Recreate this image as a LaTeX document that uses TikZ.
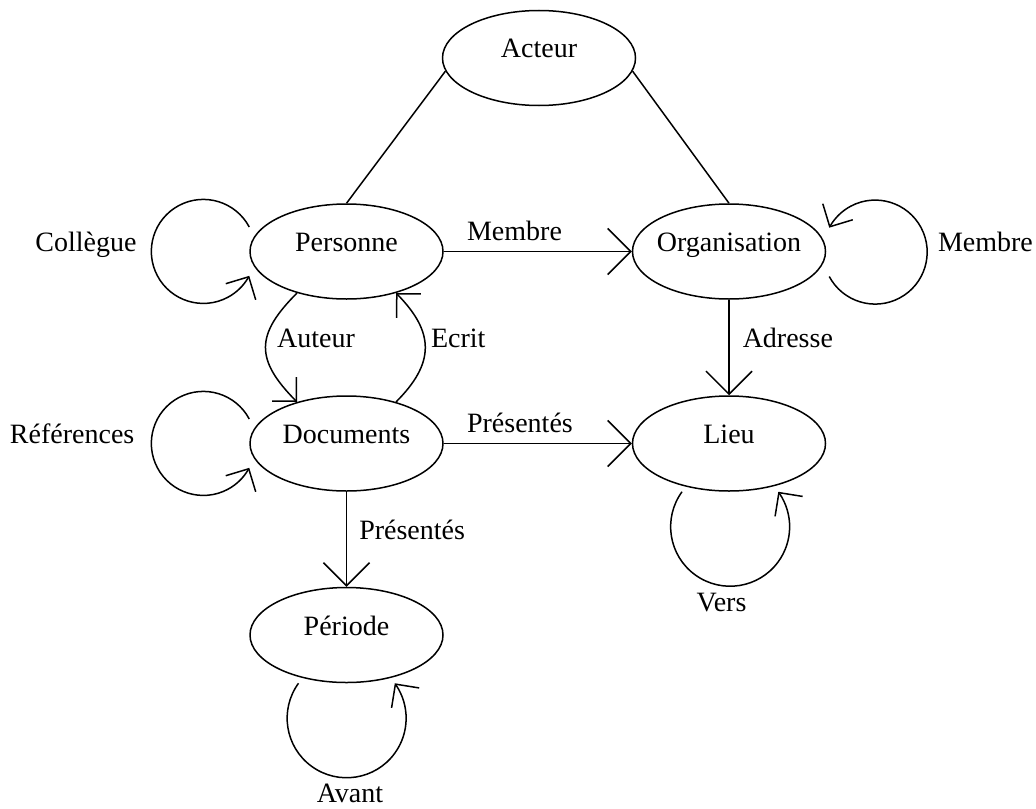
\documentclass[tikz,border=0pt]{standalone}
\usepackage{fontspec}
\setmainfont{Liberation Serif}
\usetikzlibrary{shapes.geometric,arrows.meta,bending}

\begin{document}
\begin{tikzpicture}[x=0.5pt, y=0.5pt, line width=0.75pt,
    font=\fontsize{14}{16}\selectfont,
    entite/.style={draw, ellipse, minimum width=96.5pt, minimum height=47.5pt,
      inner xsep=-20pt, inner ysep=0pt, text height=5pt, text depth=5pt},
    etiquette/.style={inner sep=0pt},
    fleche/.style={-{Straight Barb[length=11.5pt, width=23pt]}},
    boucle/.style={-{Straight Barb[length=8.5pt, width=17pt]}}]
    \useasboundingbox (0,0) rectangle (1036,-808);
    \node[entite] (acteur)       at (539,-58)    {Acteur};
    \node[entite] (personne)     at (346.5,-251.5) {Personne};
    \node[entite] (organisation) at (729,-251.5)   {Organisation};
    \node[entite] (documents)    at (346.5,-443.5) {Documents};
    \node[entite] (lieu)         at (729,-443.5)   {Lieu};
    \node[entite] (periode)      at (346.5,-635)   {Période};

    \draw (acteur.188) -- (personne.north);
    \draw (acteur.352) -- (organisation.north);
    \draw[fleche] (personne) -- node[etiquette, pos=0.12, anchor=base west, yshift=5.5pt] (lmembre) {Membre} (organisation);
    \draw[fleche] (organisation) -- node[etiquette, midway, anchor=base west, xshift=6.5pt] (ladresse) {Adresse} (lieu);
    \draw[fleche] (documents) -- node[etiquette, pos=0.12, anchor=base west, yshift=5.5pt] (lpresentes) {Présentés} (lieu);
    \draw[fleche] (documents) -- node[etiquette, midway, anchor=base west, xshift=6pt] (lpresentesb) {Présentés} (periode);
    \draw[boucle] (personne.220) to[out=225, in=135, looseness=1.4] node[etiquette, midway, anchor=base west, xshift=5.5pt] (lauteur) {Auteur} (documents.140);
    \draw[boucle] (documents.40) to[out=45, in=-45, looseness=1.3] node[etiquette, midway, anchor=base west, xshift=2.5pt] (lecrit) {Ecrit} (personne.320);

    % boucles
    \draw[boucle] ([yshift=12.25pt]personne.west) arc[start angle=28, end angle=332, radius=26pt];
    \draw[boucle] ([yshift=12.25pt]documents.west) arc[start angle=28, end angle=332, radius=26pt];
    \draw[boucle] ([shift={(1.5pt,-12.5pt)}]organisation.east) arc[start angle=208, end angle=512, radius=26pt];
    \draw[boucle] ([xshift=-23.5pt]lieu.south) arc[start angle=144, end angle=396, radius=29.75pt];
    \draw[boucle] ([xshift=-24pt]periode.south) arc[start angle=144, end angle=396, radius=29.75pt];
    \node[etiquette, anchor=base east] (lcollegue) at ([xshift=-56pt]personne.west) {Collègue};
    \node[etiquette, anchor=base west] (lreferences) at ([xshift=-120pt]documents.west) {Références};
    \node[etiquette, anchor=base west] (lmembreb) at ([xshift=55.5pt]organisation.east) {Membre};
    \node[etiquette, anchor=base] (lvers) at ([shift={(-3.75pt,-59.75pt)}]lieu.south) {Vers};
    \node[etiquette, anchor=base] (lavant) at ([shift={(1.75pt,-59.5pt)}]periode.south) {Avant};
\end{tikzpicture}
\end{document}
